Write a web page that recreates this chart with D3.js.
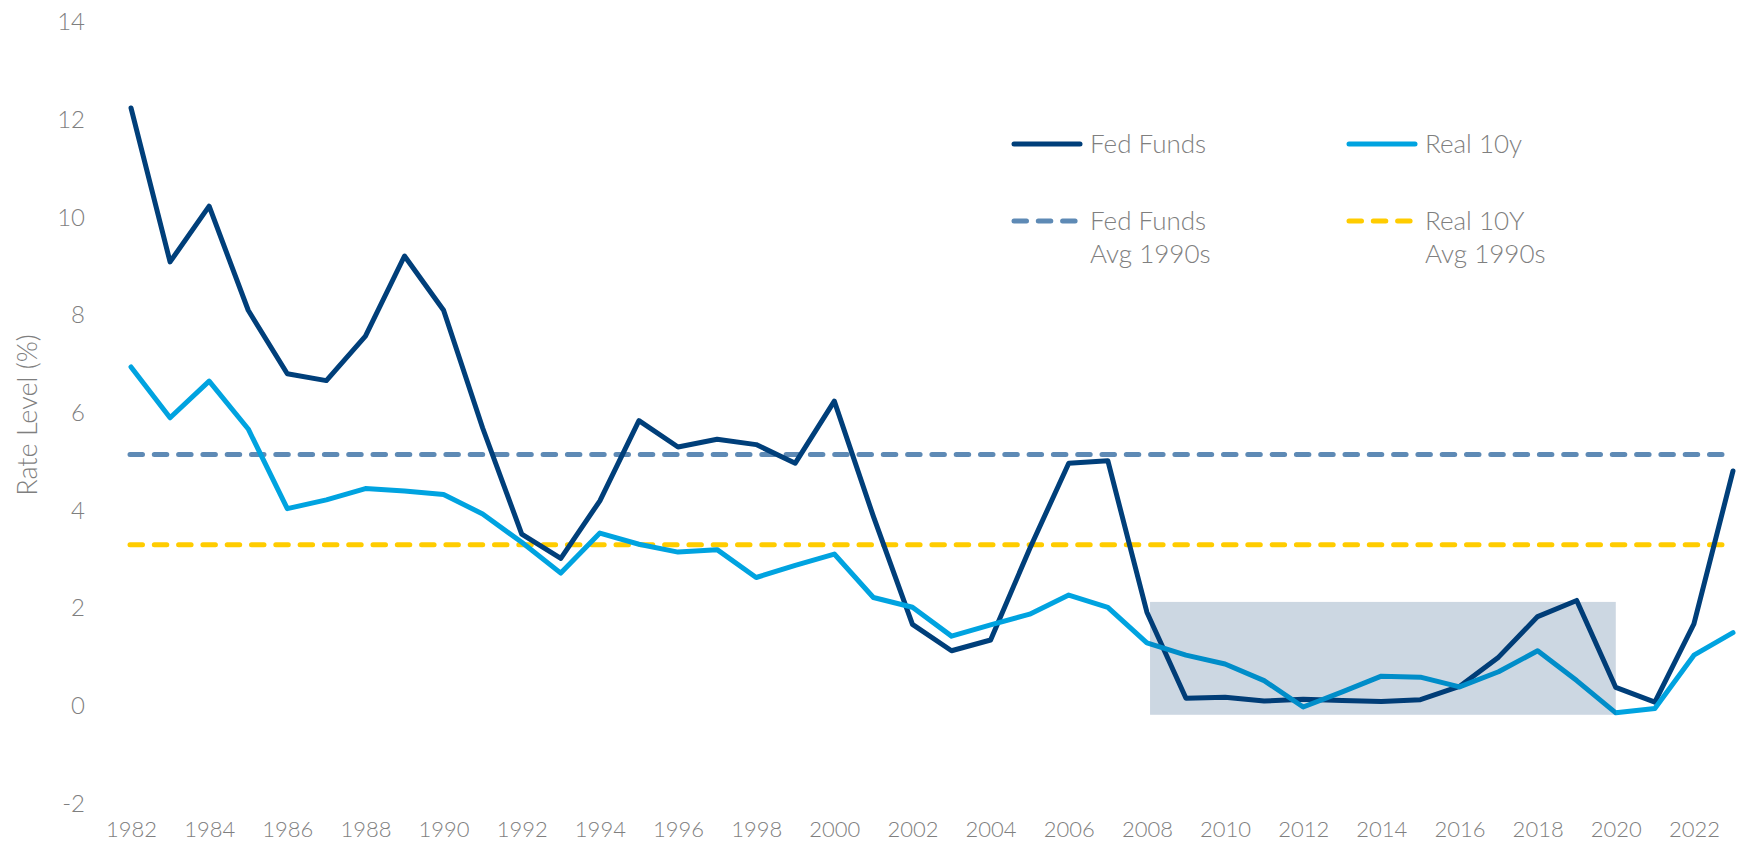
<!DOCTYPE html>
<html>
<head>
<meta charset="utf-8">
<script src="https://cdn.jsdelivr.net/npm/d3@7"></script>
<style>
  html, body { margin: 0; padding: 0; background: #fff; }
  svg { display: block; }
  text { font-family: Lato, "Open Sans", sans-serif; font-weight: 300; fill: #7f7f7f; }
</style>
</head>
<body>
<svg id="chart" width="1738" height="848"></svg>
<script>
// ---- data ----
const years = d3.range(1982, 2024);
const fedFunds = [12.24, 9.09, 10.23, 8.10, 6.80, 6.66, 7.57, 9.21, 8.10, 5.69,
  3.52, 3.02, 4.20, 5.84, 5.30, 5.46, 5.35, 4.97, 6.24, 3.88,
  1.67, 1.13, 1.35, 3.22, 4.97, 5.02, 1.92, 0.16, 0.18, 0.10,
  0.14, 0.11, 0.09, 0.13, 0.40, 1.00, 1.83, 2.16, 0.38, 0.08,
  1.68, 4.81];
const real10y = [6.94, 5.90, 6.65, 5.67, 4.04, 4.22, 4.45, 4.40, 4.33, 3.93,
  3.35, 2.72, 3.54, 3.31, 3.15, 3.20, 2.63, 2.88, 3.11, 2.22,
  2.02, 1.43, 1.66, 1.88, 2.27, 2.02, 1.29, 1.04, 0.86, 0.52,
  -0.02, 0.29, 0.61, 0.59, 0.39, 0.70, 1.13, 0.52, -0.14, -0.05,
  1.04, 1.50];
const fedAvg1990s = 5.15;
const realAvg1990s = 3.30;
const shadeYears = [2008.08, 2020];
const shadeRange = [-0.18, 2.13];
const yTicks = [-2, 0, 2, 4, 6, 8, 10, 12, 14];
const xTicks = d3.range(1982, 2023, 2);
const legendItems = [
  { label: ["Fed Funds"], color: "#003F7A", dashed: false },
  { label: ["Real 10y"], color: "#00A3E0", dashed: false },
  { label: ["Fed Funds", "Avg 1990s"], color: "#5E8AB5", dashed: true },
  { label: ["Real 10Y", "Avg 1990s"], color: "#FFCC00", dashed: true }
];

// ---- scales ----
const svg = d3.select("#chart");
const x = d3.scaleLinear().domain([1982, 2023]).range([131, 1733]);
const y = d3.scaleLinear().domain([-2, 14]).range([803.7, 22]);

// axes (text only)
const yAxis = svg.append("g").attr("transform", "translate(85,0)")
  .call(d3.axisLeft(y).tickValues(yTicks).tickFormat(d => String(d)).tickSize(0).tickPadding(0));
yAxis.select(".domain").remove();
yAxis.selectAll("text").style("font-size", "24px").attr("fill", "#7f7f7f")
  .style("font-family", "Lato, sans-serif").style("font-weight", 300);

const xAxis = svg.append("g").attr("transform", "translate(0,821)")
  .call(d3.axisBottom(x).tickValues(xTicks).tickFormat(d => String(d)).tickSize(0).tickPadding(0));
xAxis.select(".domain").remove();
xAxis.selectAll("text").style("font-size", "22px").attr("fill", "#7f7f7f")
  .style("font-family", "Lato, sans-serif").style("font-weight", 300);

svg.append("text")
  .attr("transform", "translate(37,415) rotate(-90)")
  .attr("text-anchor", "middle")
  .style("font-size", "27px")
  .text("Rate Level (%)");

// avg lines
const dash = "12.5 11.8";
svg.append("line")
  .attr("x1", x(1982) - 1).attr("x2", x(2023))
  .attr("y1", y(fedAvg1990s)).attr("y2", y(fedAvg1990s))
  .attr("stroke", "#5E8AB5").attr("stroke-width", 5)
  .attr("stroke-dasharray", dash).attr("stroke-linecap", "round");
svg.append("line")
  .attr("x1", x(1982) - 1).attr("x2", x(2023))
  .attr("y1", y(realAvg1990s)).attr("y2", y(realAvg1990s))
  .attr("stroke", "#FFCC00").attr("stroke-width", 5)
  .attr("stroke-dasharray", dash).attr("stroke-linecap", "round");

// series lines
const line = d3.line().x((d, i) => x(years[i])).y(d => y(d));
svg.append("path").datum(fedFunds)
  .attr("d", line).attr("fill", "none")
  .attr("stroke", "#003F7A").attr("stroke-width", 5)
  .attr("stroke-linejoin", "round").attr("stroke-linecap", "round");
svg.append("path").datum(real10y)
  .attr("d", line).attr("fill", "none")
  .attr("stroke", "#00A3E0").attr("stroke-width", 5)
  .attr("stroke-linejoin", "round").attr("stroke-linecap", "round");

// shaded box (overlaid)
svg.append("rect")
  .attr("x", x(shadeYears[0])).attr("width", x(shadeYears[1]) - x(shadeYears[0]))
  .attr("y", y(shadeRange[1])).attr("height", y(shadeRange[0]) - y(shadeRange[1]))
  .attr("fill", "#00386E").attr("fill-opacity", 0.2);

// legend
const legPos = [[1012, 144], [1347, 144], [1012, 221], [1347, 221]];
legendItems.forEach((it, i) => {
  const [lx, ly] = legPos[i];
  const g = svg.append("g").attr("transform", `translate(${lx},${ly})`);
  g.append("line").attr("x1", 2).attr("x2", 68).attr("y1", 0).attr("y2", 0)
    .attr("stroke", it.color).attr("stroke-width", 5).attr("stroke-linecap", "round")
    .attr("stroke-dasharray", it.dashed ? "12.5 11.8" : null);
  it.label.forEach((t, j) => {
    g.append("text").attr("x", 78).attr("y", j * 33).attr("dy", "0.35em")
      .style("font-size", "26px").text(t);
  });
});
</script>
</body>
</html>
